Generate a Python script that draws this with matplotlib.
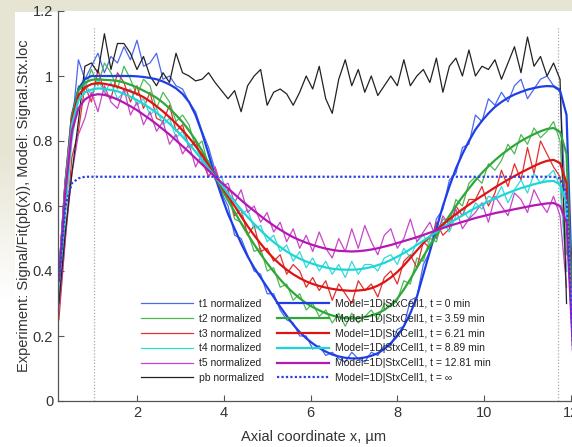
import numpy as np
import matplotlib.pyplot as plt
from matplotlib.ticker import FormatStrFormatter

plt.rcParams['font.family'] = ['Liberation Sans', 'DejaVu Sans']

# Dati sperimentali (griglia assiale comune, passo 0.15 um)
x_exp = np.round(np.arange(0.20, 11.95, 0.15), 2)

t1_exp = [0.30, 0.60, 0.84, 1.05, 0.99, 1.03, 1.07, 1.01, 1.06, 1.04, 1.09, 1.05, 1.11, 1.03, 1.04, 1.07,
          0.99, 1.00, 0.97, 0.96, 0.92, 0.89, 0.83, 0.78, 0.71, 0.64, 0.60, 0.51, 0.50, 0.45, 0.40, 0.39,
          0.33, 0.33, 0.28, 0.25, 0.24, 0.20, 0.20, 0.16, 0.17, 0.14, 0.15, 0.13, 0.12, 0.15, 0.13, 0.12,
          0.15, 0.14, 0.17, 0.17, 0.22, 0.23, 0.31, 0.32, 0.42, 0.46, 0.56, 0.59, 0.68, 0.70, 0.78, 0.79,
          0.88, 0.86, 0.93, 0.91, 0.95, 0.92, 0.97, 0.99, 0.93, 0.96, 0.99, 1.00, 0.97, 0.96, 0.55]
t2_exp = [0.30, 0.58, 0.82, 0.97, 0.96, 1.02, 0.97, 1.04, 1.01, 0.96, 1.03, 0.99, 0.94, 0.99, 0.97, 0.90,
          0.95, 0.92, 0.86, 0.88, 0.85, 0.78, 0.80, 0.72, 0.70, 0.63, 0.64, 0.56, 0.55, 0.52, 0.46, 0.47,
          0.40, 0.41, 0.35, 0.36, 0.31, 0.33, 0.28, 0.30, 0.26, 0.28, 0.24, 0.27, 0.23, 0.27, 0.24, 0.26,
          0.28, 0.25, 0.30, 0.29, 0.31, 0.37, 0.36, 0.44, 0.43, 0.50, 0.49, 0.56, 0.55, 0.62, 0.60, 0.67,
          0.69, 0.67, 0.73, 0.71, 0.74, 0.79, 0.76, 0.82, 0.79, 0.84, 0.81, 0.83, 0.86, 0.80, 0.45]
t3_exp = [0.25, 0.50, 0.75, 0.83, 0.97, 0.92, 1.02, 0.95, 0.93, 1.01, 0.98, 0.92, 0.97, 0.90, 0.95, 0.87,
          0.86, 0.91, 0.83, 0.85, 0.78, 0.80, 0.74, 0.69, 0.72, 0.64, 0.65, 0.57, 0.59, 0.51, 0.54, 0.46,
          0.47, 0.43, 0.45, 0.39, 0.42, 0.40, 0.35, 0.38, 0.34, 0.37, 0.31, 0.36, 0.33, 0.30, 0.37, 0.34,
          0.36, 0.32, 0.38, 0.40, 0.36, 0.43, 0.45, 0.41, 0.49, 0.47, 0.55, 0.51, 0.53, 0.60, 0.57, 0.62,
          0.62, 0.66, 0.60, 0.64, 0.71, 0.66, 0.73, 0.68, 0.78, 0.70, 0.80, 0.76, 0.72, 0.69, 0.40]
t4_exp = [0.30, 0.57, 0.80, 0.93, 0.98, 0.94, 0.99, 0.95, 0.98, 0.93, 0.95, 0.96, 0.91, 0.93, 0.88, 0.90,
          0.85, 0.87, 0.81, 0.83, 0.78, 0.79, 0.73, 0.74, 0.68, 0.69, 0.63, 0.62, 0.57, 0.59, 0.53, 0.54,
          0.49, 0.51, 0.46, 0.48, 0.43, 0.46, 0.41, 0.44, 0.40, 0.43, 0.39, 0.42, 0.38, 0.43, 0.39, 0.42,
          0.42, 0.40, 0.44, 0.45, 0.42, 0.47, 0.44, 0.49, 0.51, 0.48, 0.53, 0.55, 0.52, 0.57, 0.59, 0.56,
          0.61, 0.59, 0.63, 0.62, 0.66, 0.61, 0.65, 0.68, 0.64, 0.70, 0.67, 0.69, 0.71, 0.66, 0.40]
t5_exp = [0.28, 0.50, 0.70, 0.82, 0.87, 0.95, 0.89, 0.97, 0.92, 0.90, 0.96, 0.88, 0.92, 0.85, 0.89, 0.83,
          0.86, 0.79, 0.82, 0.76, 0.79, 0.72, 0.76, 0.69, 0.72, 0.66, 0.67, 0.61, 0.65, 0.58, 0.60, 0.55,
          0.58, 0.52, 0.55, 0.49, 0.53, 0.47, 0.51, 0.46, 0.52, 0.47, 0.44, 0.50, 0.46, 0.53, 0.47, 0.54,
          0.49, 0.45, 0.51, 0.53, 0.47, 0.50, 0.56, 0.49, 0.52, 0.55, 0.50, 0.57, 0.54, 0.59, 0.53, 0.56,
          0.58, 0.61, 0.55, 0.63, 0.60, 0.57, 0.64, 0.62, 0.58, 0.65, 0.61, 0.58, 0.63, 0.57, 0.35]
pb_exp = [0.30, 0.52, 0.70, 0.86, 1.03, 1.04, 1.01, 1.13, 1.02, 1.10, 1.10, 1.07, 1.02, 1.06, 1.00, 0.97,
          1.01, 0.98, 1.07, 1.01, 1.00, 0.985, 0.99, 1.01, 0.98, 0.955, 0.93, 0.955, 0.89, 0.97, 1.00, 1.02,
          0.91, 0.95, 0.96, 0.945, 0.91, 0.95, 1.00, 0.96, 1.03, 0.93, 0.885, 0.99, 1.05, 0.97, 1.02, 0.95,
          1.00, 0.94, 0.97, 1.00, 0.97, 1.05, 0.97, 1.00, 1.02, 0.98, 1.055, 0.95, 1.03, 1.055, 1.00, 1.08,
          1.00, 1.03, 1.02, 1.05, 0.99, 1.04, 1.09, 1.01, 1.12, 1.03, 1.06, 1.00, 1.04, 0.99, 0.30]

# Curve del modello 1D (stessa griglia, un punto in piu' a destra)
x_model = np.round(np.arange(0.20, 12.1, 0.15), 2)

m_t0 = [0.37, 0.67, 0.88, 0.96, 0.99, 1.0, 1.0, 1.0, 1.0, 1.0, 1.0, 1.0, 0.999, 0.997, 0.994, 0.99,
        0.983, 0.974, 0.962, 0.945, 0.92, 0.88, 0.825, 0.76, 0.69, 0.63, 0.575, 0.53, 0.485, 0.445, 0.41, 0.38,
        0.35, 0.32, 0.29, 0.262, 0.235, 0.212, 0.193, 0.177, 0.163, 0.152, 0.143, 0.137, 0.133, 0.131, 0.131, 0.134,
        0.139, 0.147, 0.16, 0.178, 0.2, 0.23, 0.27, 0.32, 0.39, 0.46, 0.53, 0.6, 0.66, 0.715, 0.76, 0.8,
        0.835, 0.862, 0.885, 0.905, 0.92, 0.933, 0.943, 0.951, 0.958, 0.963, 0.967, 0.969, 0.968, 0.955, 0.88, 0.25]
m_t359 = [0.37, 0.67, 0.875, 0.955, 0.98, 0.988, 0.99, 0.988, 0.987, 0.985, 0.98, 0.973, 0.965, 0.955, 0.945, 0.933,
          0.918, 0.9, 0.88, 0.858, 0.832, 0.803, 0.77, 0.732, 0.69, 0.653, 0.617, 0.582, 0.547, 0.513, 0.482, 0.452,
          0.424, 0.398, 0.374, 0.352, 0.333, 0.316, 0.301, 0.289, 0.279, 0.27, 0.263, 0.258, 0.255, 0.254, 0.255, 0.258,
          0.263, 0.27, 0.28, 0.295, 0.315, 0.343, 0.375, 0.41, 0.445, 0.478, 0.51, 0.54, 0.57, 0.6, 0.628, 0.654,
          0.679, 0.702, 0.722, 0.741, 0.758, 0.773, 0.787, 0.8, 0.811, 0.821, 0.83, 0.837, 0.84, 0.828, 0.76, 0.2]
m_t621 = [0.37, 0.665, 0.865, 0.94, 0.965, 0.975, 0.978, 0.976, 0.972, 0.967, 0.96, 0.953, 0.945, 0.935, 0.922, 0.907,
          0.891, 0.873, 0.854, 0.833, 0.81, 0.785, 0.757, 0.725, 0.69, 0.66, 0.63, 0.6, 0.568, 0.538, 0.51, 0.484,
          0.46, 0.439, 0.42, 0.404, 0.39, 0.378, 0.368, 0.36, 0.354, 0.349, 0.345, 0.342, 0.34, 0.339, 0.34, 0.342,
          0.347, 0.355, 0.366, 0.38, 0.397, 0.417, 0.44, 0.463, 0.486, 0.506, 0.525, 0.543, 0.56, 0.575, 0.59, 0.604,
          0.618, 0.631, 0.644, 0.657, 0.669, 0.681, 0.692, 0.703, 0.713, 0.723, 0.732, 0.739, 0.742, 0.732, 0.67, 0.18]
m_t889 = [0.37, 0.66, 0.85, 0.925, 0.95, 0.958, 0.962, 0.96, 0.957, 0.953, 0.945, 0.936, 0.926, 0.914, 0.901, 0.887,
          0.871, 0.853, 0.834, 0.813, 0.791, 0.767, 0.742, 0.716, 0.69, 0.664, 0.638, 0.613, 0.589, 0.566, 0.545, 0.525,
          0.506, 0.489, 0.474, 0.46, 0.448, 0.438, 0.429, 0.422, 0.416, 0.411, 0.407, 0.405, 0.404, 0.404, 0.405, 0.408,
          0.412, 0.418, 0.425, 0.434, 0.444, 0.455, 0.467, 0.48, 0.493, 0.507, 0.52, 0.534, 0.547, 0.559, 0.571, 0.583,
          0.594, 0.604, 0.614, 0.623, 0.632, 0.64, 0.648, 0.655, 0.661, 0.667, 0.672, 0.676, 0.677, 0.667, 0.61, 0.17]
m_t1281 = [0.37, 0.65, 0.83, 0.9, 0.928, 0.94, 0.944, 0.942, 0.936, 0.928, 0.918, 0.907, 0.895, 0.881, 0.867, 0.852,
           0.836, 0.82, 0.802, 0.784, 0.766, 0.747, 0.728, 0.709, 0.69, 0.672, 0.654, 0.636, 0.618, 0.601, 0.585, 0.569,
           0.554, 0.54, 0.527, 0.515, 0.504, 0.495, 0.487, 0.48, 0.474, 0.469, 0.465, 0.462, 0.461, 0.46, 0.461, 0.463,
           0.466, 0.47, 0.475, 0.48, 0.486, 0.492, 0.498, 0.504, 0.511, 0.518, 0.525, 0.532, 0.539, 0.545, 0.551, 0.557,
           0.563, 0.568, 0.573, 0.578, 0.582, 0.586, 0.59, 0.594, 0.598, 0.602, 0.605, 0.608, 0.609, 0.6, 0.55, 0.15]
# stato stazionario: plateau costante a 0.69
m_tinf = [0.37, 0.60, 0.67, 0.685] + [0.69] * 73 + [0.685, 0.64, 0.15]

# Bordi della cellula (linee tratteggiate verticali)
bordi_x = [1.0, 11.7]
bordi_top = 1.15

exp_series = [t1_exp, t2_exp, t3_exp, t4_exp, t5_exp, pb_exp]
exp_labels = ['t1 normalized', 't2 normalized', 't3 normalized', 't4 normalized', 't5 normalized', 'pb normalized']
exp_colors = ['#4a68f0', '#4fb955', '#e23030', '#33dada', '#c945c9', '#222222']

model_series = [m_t0, m_t359, m_t621, m_t889, m_t1281, m_tinf]
model_labels = ['Model=1D|StxCell1, t = 0 min', 'Model=1D|StxCell1, t = 3.59 min',
                'Model=1D|StxCell1, t = 6.21 min', 'Model=1D|StxCell1, t = 8.89 min',
                'Model=1D|StxCell1, t = 12.81 min', 'Model=1D|StxCell1, t = \u221e']
model_colors = ['#1f3fe6', '#2fa83a', '#dd1414', '#1fd6d6', '#b418b4', '#2a3fe8']

W, H = 572, 447
fig = plt.figure(figsize=(W / 100, H / 100), dpi=100)
fig.patch.set_facecolor('white')

# Sfondo della slide (striscia beige a sinistra e in alto)
bg = fig.add_axes([0, 0, 1, 1], zorder=-10)
bg.axis('off')
img = np.ones((H, W, 3))
beige = np.array([0.905, 0.895, 0.830])
fade = np.clip((300 - np.arange(H)) / 150.0, 0, 1)[:, None]
img[:, :15, :] = 1 - fade[:, :, None] * (1 - beige) * np.ones((1, 15, 1))
img[:12, :, :] = beige
bg.imshow(img, extent=[0, 1, 0, 1], aspect='auto')
bg.set_xlim(0, 1)
bg.set_ylim(0, 1)

ax = fig.add_axes([58 / W, 46 / H, 522 / W, 390 / H])
ax.set_facecolor('white')

ax.vlines(bordi_x, 0, bordi_top, colors='#aaaaaa', linestyles=(0, (1, 1.5)), linewidth=0.9)

handles = []
for y, lab, col in zip(exp_series, exp_labels, exp_colors):
    h, = ax.plot(x_exp, y, color=col, lw=0.9, label=lab)
    handles.append(h)
for i, (y, lab, col) in enumerate(zip(model_series, model_labels, model_colors)):
    ls = (0, (1, 1)) if i == 5 else '-'
    h, = ax.plot(x_model, y, color=col, lw=1.6, ls=ls, label=lab)
    handles.append(h)

ax.set_xlim(0.18, 12.21)
ax.set_ylim(0, 1.2)
ax.set_xticks([2, 4, 6, 8, 10, 12])
ax.set_yticks([0, 0.2, 0.4, 0.6, 0.8, 1.0, 1.2])
ax.yaxis.set_major_formatter(FormatStrFormatter('%g'))

for s in ['top', 'right']:
    ax.spines[s].set_visible(False)
for s in ['left', 'bottom']:
    ax.spines[s].set_color('#555555')
    ax.spines[s].set_linewidth(0.9)
ax.tick_params(direction='in', length=4, width=0.8, color='#555555', labelsize=10.5, labelcolor='#333333')

ax.set_xlabel('Axial coordinate x, \u00b5m', fontsize=10.5, color='#333333')
ax.xaxis.set_label_coords(0.489, -0.075)
ax.set_ylabel('Experiment: Signal/Fit(pb(x)), Model: Signal.Stx.loc', fontsize=10.5, color='#333333')
ax.yaxis.set_label_coords(-0.052, 0.5)

leg = ax.legend(handles, [h.get_label() for h in handles], ncol=2, frameon=False, fontsize=7.5,
                handlelength=5.0, handletextpad=0.6, columnspacing=1.2, labelspacing=0.46,
                borderpad=0, borderaxespad=0, loc='upper left',
                bbox_to_anchor=(141 / W, (H - 299) / H), bbox_transform=fig.transFigure)
for t in leg.get_texts():
    t.set_color('#222222')

fig.savefig('out.png', dpi=100)
